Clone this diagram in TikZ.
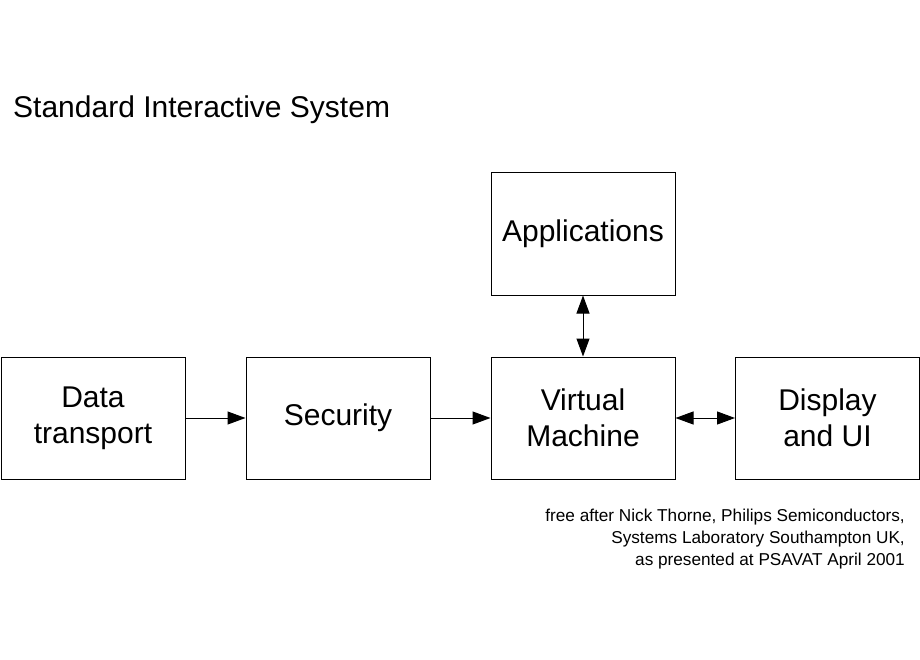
\documentclass[tikz,border=0pt]{standalone}
\usepackage{fontspec}
\setmainfont{Liberation Sans}
\usetikzlibrary{arrows.meta}
\begin{document}
\begin{tikzpicture}[x=1pt,y=-1pt,
  blk/.style={draw,line width=1pt,minimum width=184pt,minimum height=122pt,align=center,font=\fontsize{30}{36}\selectfont,inner sep=0pt},
  arr/.style={line width=1pt,-{Triangle[length=18pt,width=13pt]}},
  darr/.style={line width=1pt,{Triangle[length=18pt,width=13pt]}-{Triangle[length=18pt,width=13pt]}}]
\useasboundingbox (0,0) rectangle (920,660);
\node[anchor=west,font=\fontsize{30}{34}\selectfont,inner sep=0pt] (title) at (13,110) {Standard Interactive System};
\node[blk] (dt) at (93,418) {Data\\transport};
\node[blk] (sec) at (338,418) {Security};
\node[blk] (vm) at (583,418) {Virtual\\Machine};
\node[blk] (dui) at (827.5,418) {Display\\and UI};
\node[blk] (app) at (583,234) {Applications};
\draw[arr] (dt) -- (sec);
\draw[arr] (sec) -- (vm);
\draw[darr] (vm) -- (dui);
\draw[darr] (app) -- (vm);
\node[anchor=north east,align=right,font=\fontsize{17.2}{22}\selectfont,inner sep=0pt] (credit) at (905,509) {free after Nick Thorne, Philips Semiconductors,\\Systems Laboratory Southampton UK,\\as presented at PSAVAT April 2001};
\end{tikzpicture}
\end{document}
